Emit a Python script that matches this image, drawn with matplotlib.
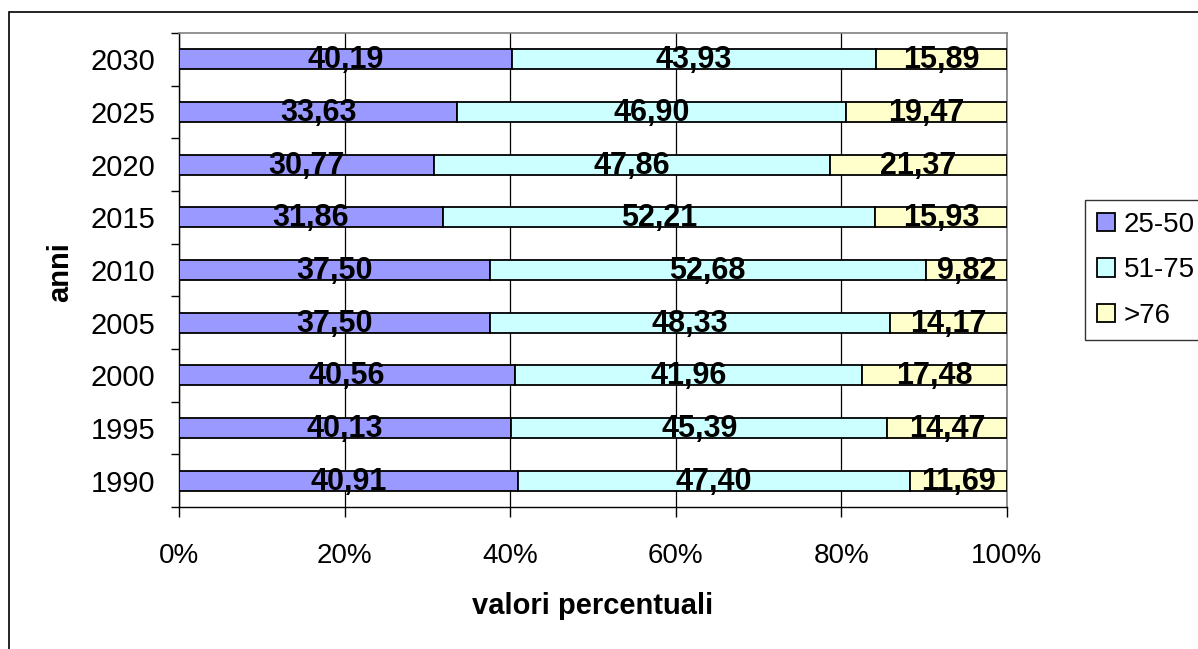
import numpy as np
import matplotlib
matplotlib.use("Agg")
import matplotlib.pyplot as plt
from matplotlib.patches import Rectangle

plt.rcParams['font.family'] = ['Liberation Sans', 'DejaVu Sans']

# quote percentuali per fascia d'età
anni = ['1990', '1995', '2000', '2005', '2010', '2015', '2020', '2025', '2030']
fascia_25_50 = [40.91, 40.13, 40.56, 37.50, 37.50, 31.86, 30.77, 33.63, 40.19]
fascia_51_75 = [47.40, 45.39, 41.96, 48.33, 52.68, 52.21, 47.86, 46.90, 43.93]
fascia_76 = [11.69, 14.47, 17.48, 14.17, 9.82, 15.93, 21.37, 19.47, 15.89]
serie = ['25-50', '51-75', '>76']
colori = ['#9999FF', '#CCFFFF', '#FFFFCC']
tick_x = [0, 20, 40, 60, 80, 100]

W, H = 1198, 649
fig = plt.figure(figsize=(W / 100, H / 100), dpi=100)
ax = fig.add_axes([179 / W, 1 - 507 / H, 828 / W, 474 / H])

# cornice esterna del grafico
fig.patches.append(Rectangle((9 / W, -0.2), 1.2, 1 - 12 / H + 0.2,
                             transform=fig.transFigure, fill=False,
                             edgecolor='black', linewidth=1.2, clip_on=False))

y = np.arange(len(anni))
sinistra = np.zeros(len(anni))
for valori, nome, col in zip([fascia_25_50, fascia_51_75, fascia_76], serie, colori):
    valori = np.array(valori)
    ax.barh(y, valori, left=sinistra, height=0.38, color=col,
            edgecolor='black', linewidth=1.3, label=nome, zorder=3)
    for yi, s, v in zip(y, sinistra, valori):
        ax.text(s + v / 2, yi - 0.02, f'{v:.2f}'.replace('.', ','), ha='center',
                va='center', fontsize=22, fontweight='bold', zorder=4)
    sinistra = sinistra + valori

ax.set_xlim(0, 100)
ax.set_ylim(-0.5, len(anni) - 0.5)
ax.set_xticks(tick_x)
ax.set_xticklabels([f'{t}%' for t in tick_x])
ax.set_yticks(y)
ax.set_yticklabels(anni)
ax.set_yticks(np.arange(-0.5, len(anni)), minor=True)
ax.tick_params(axis='y', which='major', length=0, pad=17, labelsize=21)
ax.tick_params(axis='y', which='minor', length=6, width=1, direction='out')
ax.tick_params(axis='x', length=7, width=1, direction='out', pad=19, labelsize=20)

ax.grid(axis='x', color='black', linewidth=0.9, zorder=0)
ax.set_axisbelow(True)
for lato in ['top', 'right']:
    ax.spines[lato].set_color('#808080')
    ax.spines[lato].set_linewidth(1.2)
for lato in ['left', 'bottom']:
    ax.spines[lato].set_color('black')
    ax.spines[lato].set_linewidth(1)

fig.text(593 / W, 1 - 606 / H, 'valori percentuali', ha='center', va='center',
         fontsize=21, fontweight='bold')
fig.text(60 / W, 1 - 272 / H, 'anni', ha='center', va='center', rotation=90,
         fontsize=21, fontweight='bold')

leg = fig.legend(loc='upper left', bbox_to_anchor=(1085 / W, 1 - 200 / H),
                 fontsize=20, frameon=True, fancybox=False, edgecolor='black',
                 handlelength=0.65, handleheight=0.65, handletextpad=0.33,
                 labelspacing=0.7, borderpad=0.42, borderaxespad=0)
leg.get_frame().set_linewidth(1)

fig.savefig('out.png', dpi=100)
